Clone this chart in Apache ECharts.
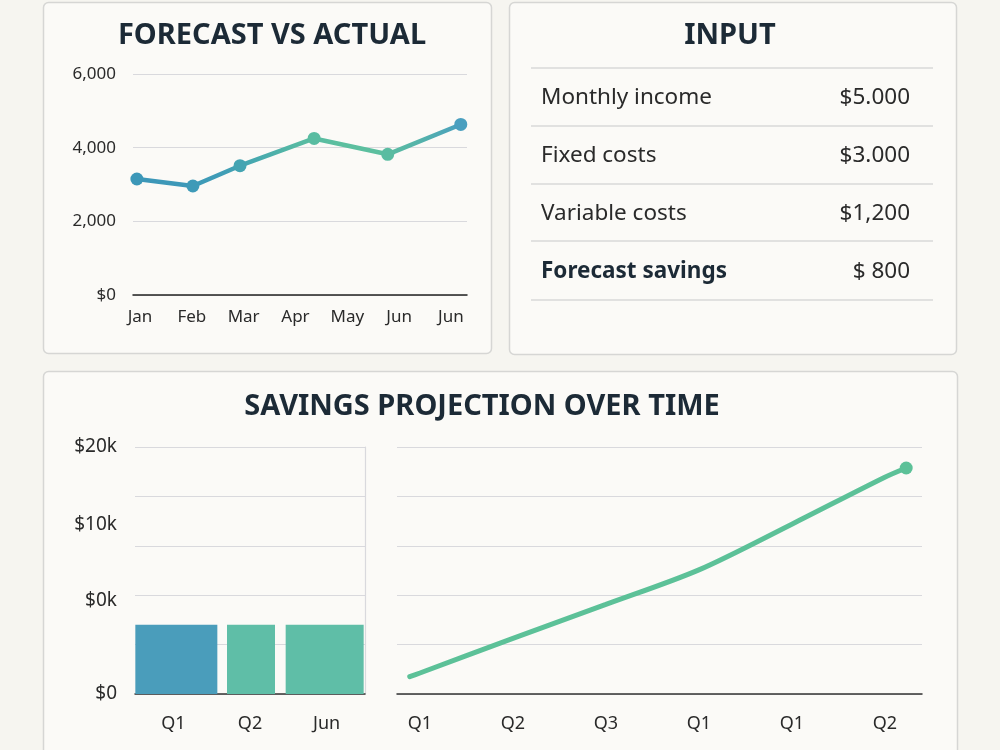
<!DOCTYPE html>
<html>
<head>
<meta charset="utf-8">
<title>Savings forecast</title>
<script src="https://cdn.jsdelivr.net/npm/echarts@6/dist/echarts.min.js"></script>
<style>
  html, body { margin: 0; padding: 0; background: #f6f5f0; }
  #main { width: 1000px; height: 750px; }
</style>
</head>
<body>
<div id="main"></div>
<script>
// forecast vs actual (top left)
const months = ['Jan', 'Feb', 'Mar', 'Apr', 'May', 'Jun', 'Jun'];
const actualMonthPos = [-0.06, 1.02, 1.93, 3.36, 4.78, 6.19];
const actualValues = [3150, 2960, 3510, 4250, 3820, 4630];

// input table (top right)
const inputLabels = ['Monthly income', 'Fixed costs', 'Variable costs', 'Forecast savings'];
const inputValues = ['$5.000', '$3.000', '$1,200', '$ 800'];

// savings projection (bottom)
const barCategories = ['Q1', 'Q2', 'Jun'];
const barValues = [5600, 5600, 5600];
const savingsTicks = [0, 7600, 13700, 20000];
const savingsTickLabels = ['$0', '$0k', '$10k', '$20k'];
const quarterLabels = ['Q1', 'Q2', 'Q3', 'Q1', 'Q1', 'Q2'];
const projectionPos = [-0.11, 0, 1, 2, 3, 4, 5, 5.23];
const projectionValues = [1400, 1700, 4500, 7250, 10050, 13750, 17550, 18300];

// styling
const FONT = '"Noto Sans", "Open Sans", sans-serif';
const INK = '#1c2a36';
const TXT = '#2a2a2a';
const GRID = '#d9d9dd';
const barWidths = [82, 48, 78];
const barShift = [3, 1, -2];
const barColors = ['#4a9dbb', '#5fbea7', '#5fbea7'];

const panels = [[43, 2, 448, 351], [509, 2, 447, 352], [43, 371, 914, 420]];
const rowLines = [68, 126, 184, 241, 300];
const rowMid = [98, 156, 214, 272];
const titles = [['FORECAST VS ACTUAL', 272, 36], ['INPUT', 730, 36], ['SAVINGS PROJECTION OVER TIME', 482, 407]];

const graphics = [];
panels.forEach(p => graphics.push({
  type: 'rect', silent: true, z: -10,
  shape: {x: p[0] + 0.5, y: p[1] + 0.5, width: p[2], height: p[3], r: 5},
  style: {fill: '#fbfaf7', stroke: '#d6d6d4', lineWidth: 1.5}
}));
rowLines.forEach(y => graphics.push({
  type: 'line', silent: true,
  shape: {x1: 531, y1: y, x2: 933, y2: y},
  style: {stroke: '#d9d9d9', lineWidth: 1.5}
}));
titles.forEach(t => graphics.push({
  type: 'text', x: t[1], y: t[2],
  style: {text: t[0], fontSize: 29, fontWeight: 'bold', fontFamily: FONT, fill: INK,
          textAlign: 'center', textVerticalAlign: 'middle'}
}));
inputLabels.forEach((t, i) => {
  const bold = i === inputLabels.length - 1;
  graphics.push({
    type: 'text', x: 541, y: rowMid[i],
    style: {text: t, fontSize: 22.5, fontWeight: bold ? 'bold' : 'normal', fontFamily: FONT,
            fill: bold ? INK : TXT, textAlign: 'left', textVerticalAlign: 'middle'}
  });
  graphics.push({
    type: 'text', x: 910, y: rowMid[i],
    style: {text: inputValues[i], fontSize: 22.5, fontFamily: FONT, fill: TXT,
            textAlign: 'right', textVerticalAlign: 'middle'}
  });
});

const labelStyle = (size, margin) => ({fontSize: size, color: TXT, fontFamily: FONT, margin: margin});

const option = {
  backgroundColor: '#f6f5f0',
  animation: false,
  graphic: graphics,
  grid: [
    {left: 133, top: 74, width: 334, height: 221},
    {left: 135, top: 447, width: 230, height: 247},
    {left: 397, top: 447, width: 525, height: 247}
  ],
  xAxis: [
    {
      gridIndex: 0, type: 'value', min: -0.135, max: 6.31,
      axisLine: {show: true, onZero: false, lineStyle: {color: '#222', width: 1.5}},
      axisTick: {show: false}, splitLine: {show: false},
      axisLabel: Object.assign(labelStyle(17, 14), {
        customValues: months.map((m, i) => i),
        formatter: v => months[Math.round(v)]
      })
    },
    {
      gridIndex: 1, type: 'category', data: barCategories,
      axisLine: {lineStyle: {color: '#333', width: 1.5}},
      axisTick: {show: false},
      axisLabel: labelStyle(18, 21)
    },
    {
      gridIndex: 2, type: 'value', min: -0.247, max: 5.4,
      axisLine: {show: true, onZero: false, lineStyle: {color: '#333', width: 1.5}},
      axisTick: {show: false}, splitLine: {show: false},
      axisLabel: Object.assign(labelStyle(18, 21), {
        customValues: quarterLabels.map((q, i) => i),
        formatter: v => quarterLabels[Math.round(v)]
      })
    }
  ],
  yAxis: [
    {
      gridIndex: 0, type: 'value', min: 0, max: 6000, interval: 2000,
      axisLine: {show: false}, axisTick: {show: false},
      splitLine: {lineStyle: {color: GRID, width: 1.2}},
      axisLabel: Object.assign(labelStyle(17, 17), {
        formatter: v => v === 0 ? '$0' : v.toLocaleString('en-US')
      })
    },
    {
      gridIndex: 1, type: 'value', min: 0, max: 20000, interval: 4000,
      axisLine: {show: false}, axisTick: {show: false},
      splitLine: {lineStyle: {color: GRID, width: 1.2}},
      axisLabel: Object.assign(labelStyle(19, 18), {
        customValues: savingsTicks,
        formatter: v => savingsTickLabels[savingsTicks.indexOf(v)]
      })
    },
    {
      gridIndex: 1, type: 'value', position: 'right', min: 0, max: 20000,
      axisLine: {show: true, lineStyle: {color: GRID, width: 1.2}},
      axisTick: {show: false}, axisLabel: {show: false}, splitLine: {show: false}
    },
    {
      gridIndex: 2, type: 'value', min: 0, max: 20000, interval: 4000,
      axisLine: {show: false}, axisTick: {show: false}, axisLabel: {show: false},
      splitLine: {lineStyle: {color: GRID, width: 1.2}}
    }
  ],
  visualMap: {
    type: 'continuous', show: false, seriesIndex: 0, dimension: 0,
    min: actualMonthPos[0], max: actualMonthPos[actualMonthPos.length - 1],
    inRange: {color: ['#3c97b8', '#3d98b8', '#3f9cb7', '#48aaae', '#57baa3',
                      '#5cbf9f', '#5cbf9f', '#54b2aa', '#4a9fbf']}
  },
  series: [
    {
      name: 'Actual', type: 'line', xAxisIndex: 0, yAxisIndex: 0,
      data: actualMonthPos.map((x, i) => [x, actualValues[i]]),
      symbol: 'circle', symbolSize: 13,
      lineStyle: {width: 4.5}, z: 3
    },
    {
      name: 'Savings', type: 'custom', xAxisIndex: 1, yAxisIndex: 1,
      data: barValues.map((v, i) => [i, v]),
      encode: {x: 0, y: 1},
      renderItem: function (params, api) {
        const i = params.dataIndex;
        const top = api.coord([api.value(0), api.value(1)]);
        const base = api.coord([api.value(0), 0]);
        return {
          type: 'rect',
          shape: {x: top[0] - barWidths[i] / 2 + barShift[i], y: top[1],
                  width: barWidths[i], height: base[1] - top[1]},
          style: {fill: barColors[i]}
        };
      }
    },
    {
      name: 'Projection', type: 'line', xAxisIndex: 2, yAxisIndex: 3,
      smooth: 0.3,
      data: projectionPos.map((x, i) => i === projectionPos.length - 1
        ? {value: [x, projectionValues[i]]}
        : {value: [x, projectionValues[i]], symbol: 'none'}),
      symbol: 'circle', symbolSize: 13,
      lineStyle: {width: 5, color: '#5cc198', cap: 'round'},
      itemStyle: {color: '#5cc198'}
    }
  ]
};

const myChart = echarts.init(document.getElementById('main'));
myChart.setOption(option);
</script>
</body>
</html>
